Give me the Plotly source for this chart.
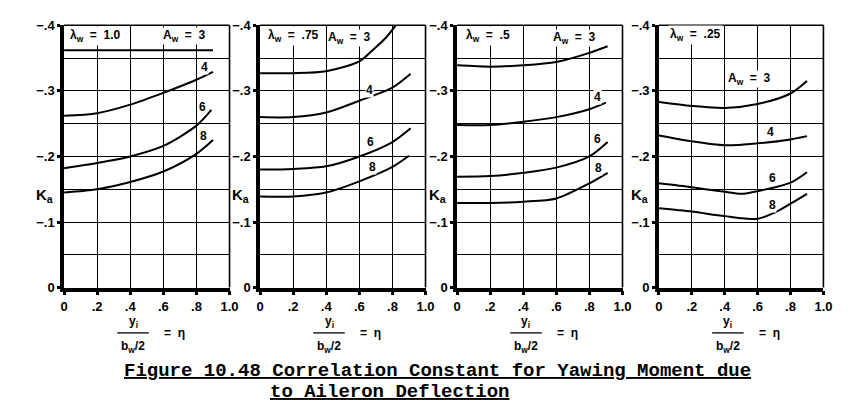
import plotly.graph_objects as go

W, H = 860, 419

# ---------------- data ----------------
lambda_labels = ["1.0", ".75", ".5", ".25"]
aspect_ratios = ["3", "4", "6", "8"]

# panel 1: lambda_w = 1.0
p1_eta = {
    "3": [0.0, 0.2, 0.4, 0.6, 0.8, 0.9],
    "4": [0.0, 0.2, 0.4, 0.6, 0.8, 0.9],
    "6": [0.0, 0.2, 0.4, 0.6, 0.8, 0.89],
    "8": [0.0, 0.2, 0.4, 0.6, 0.8, 0.9],
}
p1_k = {
    "3": [-0.362, -0.362, -0.362, -0.362, -0.362, -0.362],
    "4": [-0.262, -0.266, -0.279, -0.297, -0.317, -0.329],
    "6": [-0.182, -0.190, -0.200, -0.216, -0.247, -0.271],
    "8": [-0.145, -0.150, -0.161, -0.177, -0.204, -0.225],
}

# panel 2: lambda_w = .75
p2_eta = {
    "3": [0.0, 0.2, 0.4, 0.6, 0.68, 0.76, 0.82],
    "4": [0.0, 0.2, 0.4, 0.6, 0.8, 0.91],
    "6": [0.0, 0.2, 0.4, 0.6, 0.8, 0.91],
    "8": [0.0, 0.2, 0.4, 0.6, 0.8, 0.9],
}
p2_k = {
    "3": [-0.327, -0.327, -0.330, -0.345, -0.362, -0.381, -0.400],
    "4": [-0.260, -0.260, -0.267, -0.285, -0.305, -0.326],
    "6": [-0.180, -0.181, -0.185, -0.200, -0.222, -0.243],
    "8": [-0.139, -0.139, -0.145, -0.162, -0.184, -0.201],
}

# panel 3: lambda_w = .5
p3_eta = {
    "3": [0.0, 0.2, 0.4, 0.6, 0.8, 0.91],
    "4": [0.0, 0.2, 0.4, 0.6, 0.8, 0.9],
    "6": [0.0, 0.2, 0.4, 0.6, 0.8, 0.91],
    "8": [0.0, 0.2, 0.4, 0.6, 0.8, 0.91],
}
p3_k = {
    "3": [-0.339, -0.337, -0.339, -0.344, -0.358, -0.368],
    "4": [-0.248, -0.248, -0.253, -0.260, -0.272, -0.282],
    "6": [-0.169, -0.170, -0.175, -0.183, -0.200, -0.222],
    "8": [-0.129, -0.129, -0.131, -0.136, -0.159, -0.175],
}

# panel 4: lambda_w = .25
p4_eta = {
    "3": [0.0, 0.2, 0.4, 0.6, 0.8, 0.9],
    "4": [0.0, 0.2, 0.4, 0.6, 0.8, 0.9],
    "6": [0.0, 0.2, 0.4, 0.5, 0.6, 0.8, 0.9],
    "8": [0.0, 0.2, 0.4, 0.6, 0.7, 0.8, 0.9],
}
p4_k = {
    "3": [-0.283, -0.277, -0.274, -0.280, -0.296, -0.315],
    "4": [-0.232, -0.223, -0.217, -0.220, -0.226, -0.231],
    "6": [-0.159, -0.153, -0.146, -0.143, -0.147, -0.160, -0.176],
    "8": [-0.121, -0.116, -0.109, -0.105, -0.114, -0.128, -0.143],
}

panels_eta = [p1_eta, p2_eta, p3_eta, p4_eta]
panels_k = [p1_k, p2_k, p3_k, p4_k]

# label positions (eta, K) for curve numbers and "A_w = 3"
curve_label_pos = [
    {"4": (0.85, -0.337), "6": (0.835, -0.276), "8": (0.84, -0.231), "3": (0.73, -0.383)},
    {"4": (0.66, -0.302), "6": (0.67, -0.222), "8": (0.68, -0.184), "3": (0.54, -0.381)},
    {"4": (0.85, -0.290), "6": (0.85, -0.226), "8": (0.855, -0.183), "3": (0.71, -0.381)},
    {"4": (0.68, -0.238), "6": (0.69, -0.167), "8": (0.69, -0.126), "3": (0.55, -0.318)},
]
lambda_label_pos = [(0.19, -0.383), (0.20, -0.383), (0.19, -0.383), (0.22, -0.385)]

x_tickvals = [0, 0.2, 0.4, 0.6, 0.8, 1.0]
x_ticktext = ["0", ".2", ".4", ".6", ".8", "1.0"]
y_tickvals = [0, -0.1, -0.2, -0.3, -0.4]
y_ticktext = ["0", "\u2212.1", "\u2212.2", "\u2212.3", "\u2212.4"]
y_minor = [-0.05, -0.15, -0.25, -0.35]

caption_1 = "Figure 10.48 Correlation Constant for Yawing Moment due"
caption_2 = "to Aileron Deflection"

# ---------------- layout geometry (pixels) ----------------
x_left = [61, 260, 460, 665]
x_right = [229, 428, 628, 832]
y_top_px, y_bot_px = 19, 291


def px(x):
    return x / W


def py(y):
    return 1 - y / H


fig = go.Figure()
FONT = "Liberation Sans"
tick_font = dict(family=FONT, size=13, color="black", weight="bold")
lab_font = dict(family=FONT, size=12, color="black", weight="bold")

annotations = []
shapes = []


def paper_text(x, y, text, font, xanchor="center", yanchor="middle"):
    annotations.append(dict(
        x=px(x), y=py(y), xref="paper", yref="paper", showarrow=False,
        xanchor=xanchor, yanchor=yanchor, text=text, font=font))


for i in range(4):
    n = i + 1
    xa = "x" if n == 1 else f"x{n}"
    ya = "y" if n == 1 else f"y{n}"
    for a in aspect_ratios:
        fig.add_trace(go.Scatter(
            x=panels_eta[i][a], y=panels_k[i][a], mode="lines",
            line=dict(color="black", width=2, shape="spline", smoothing=0.8),
            xaxis=xa, yaxis=ya, showlegend=False, hoverinfo="skip"))

    fig.update_layout({
        f"xaxis{'' if n == 1 else n}": dict(
            domain=[px(x_left[i]), px(x_right[i])], range=[0, 1],
            tickvals=x_tickvals, ticktext=x_ticktext, tickfont=tick_font,
            showgrid=True, gridcolor="black", gridwidth=1.3,
            showline=True, linecolor="black", linewidth=3.5,
            ticks="outside", ticklen=4, tickwidth=2.5, tickcolor="black",
            ticklabelstandoff=0,
            zeroline=False, anchor=ya, fixedrange=True),
        f"yaxis{'' if n == 1 else n}": dict(
            domain=[py(y_bot_px), py(y_top_px)], range=[0, -0.4],
            tickvals=y_tickvals, ticktext=y_ticktext, tickfont=tick_font,
            showgrid=True, gridcolor="black", gridwidth=1.3,
            minor=dict(tickvals=y_minor, showgrid=True, gridcolor="black",
                       gridwidth=1.3, ticks=""),
            showline=True, linecolor="black", linewidth=3.5,
            ticks="outside", ticklen=3, tickwidth=2.5, tickcolor="black",
            ticklabelstandoff=0,
            zeroline=False, anchor=xa, fixedrange=True),
    })

    # top and right borders
    shapes.append(dict(type="line", xref="paper", yref="paper",
                       x0=px(x_left[i]), x1=px(x_right[i]),
                       y0=py(y_top_px), y1=py(y_top_px),
                       line=dict(color="black", width=1.6)))
    shapes.append(dict(type="line", xref="paper", yref="paper",
                       x0=px(x_right[i]), x1=px(x_right[i]),
                       y0=py(y_top_px), y1=py(y_bot_px),
                       line=dict(color="black", width=1.6)))

    # lambda label
    lx, ly = lambda_label_pos[i]
    annotations.append(dict(
        x=lx, y=ly, xref=xa, yref=ya, showarrow=False,
        xanchor="center", yanchor="middle",
        text=f"\u03bb<sub>w</sub>  =  {lambda_labels[i]}", font=lab_font,
        bgcolor="white", borderpad=1))
    # curve labels
    for a in aspect_ratios:
        cx, cy = curve_label_pos[i][a]
        txt = "A<sub>w</sub>  =  3" if a == "3" else a
        annotations.append(dict(
            x=cx, y=cy, xref=xa, yref=ya, showarrow=False, text=txt,
            xanchor="center", yanchor="middle",
            font=lab_font, bgcolor="white", borderpad=0))

    # K_a label
    paper_text(x_left[i] - 20, 196, "K<sub>a</sub>",
               dict(family=FONT, size=15, color="black", weight="bold"))

    # x-axis fraction label
    cxp = x_left[i] + 70
    paper_text(cxp, 327, "y<sub>i</sub>", lab_font)
    paper_text(cxp, 353, "b<sub>w</sub>/2", lab_font)
    shapes.append(dict(type="line", xref="paper", yref="paper",
                       x0=px(cxp - 16), x1=px(cxp + 16),
                       y0=py(338), y1=py(338),
                       line=dict(color="black", width=1.3)))
    paper_text(cxp + 42, 338, "=  \u03b7", lab_font)

# caption
cap_font = dict(family="Liberation Mono", size=19, color="black", weight="bold")
paper_text(120, 378, f"<u>{caption_1}</u>", cap_font, xanchor="left")
paper_text(268, 399, f"<u>{caption_2}</u>", cap_font, xanchor="left")

fig.update_layout(
    width=W, height=H, margin=dict(l=0, r=0, t=0, b=0),
    paper_bgcolor="white", plot_bgcolor="white",
    annotations=annotations, shapes=shapes, showlegend=False)

fig.write_html("out.html")
